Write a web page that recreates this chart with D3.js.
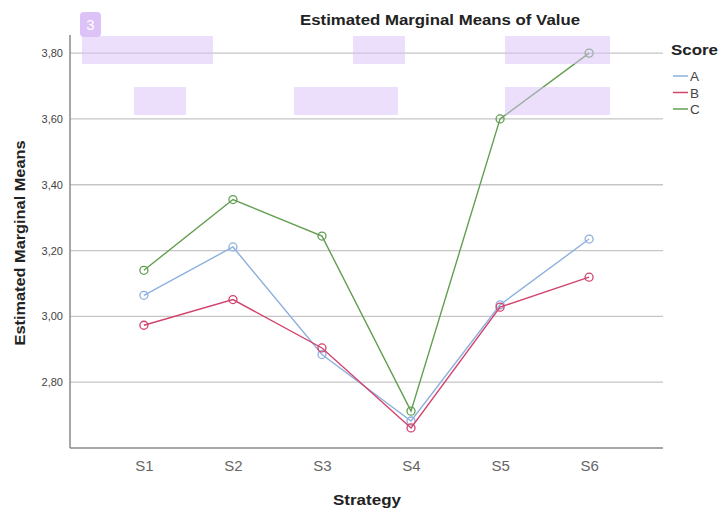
<!DOCTYPE html>
<html><head><meta charset="utf-8">
<script src="https://cdn.jsdelivr.net/npm/d3@7/dist/d3.min.js"></script>
<style>body{margin:0;background:#fff;font-family:"Liberation Sans",Arial,sans-serif}</style>
</head><body><svg id="c" width="720" height="508"></svg>
<script>
const categories = ["S1","S2","S3","S4","S5","S6"];
const seriesNames = ["A","B","C"];
const valuesA = [3.064, 3.211, 2.884, 2.682, 3.035, 3.235];
const valuesB = [2.973, 3.051, 2.904, 2.661, 3.028, 3.119];
const valuesC = [3.140, 3.355, 3.244, 2.712, 3.600, 3.800];
const yTicks = [2.80, 3.00, 3.20, 3.40, 3.60, 3.80];
const colors = ["#8db0df", "#d2436c", "#629e52"];
const overlays = [[82,36,131,28],[353,36,52,28],[505,36,105,28],[134,87,52,28],[294,87,104,28],[505,87,105,28]];

const svg = d3.select("#c");
const L=70, R=663, T=35, B=448;
const x = d3.scalePoint().domain(categories).range([L,R]).padding(0.83);
const y = d3.scaleLinear().domain([2.60, 3.855]).range([B,T]);

// gridlines
svg.append("g").selectAll("line").data(yTicks).join("line")
  .attr("x1",L).attr("x2",R).attr("y1",d=>y(d)).attr("y2",d=>y(d))
  .attr("stroke","#c6c6c6").attr("stroke-width",1.3);

// axes
const yAxis = svg.append("g").attr("transform",`translate(${L},0)`)
  .call(d3.axisLeft(y).tickValues(yTicks).tickSize(0).tickPadding(7).tickFormat(d=>d3.format(".2f")(d).replace(".",",")));
yAxis.select(".domain").remove();
yAxis.selectAll("text").attr("font-size",11).attr("fill","#444").attr("font-family","Liberation Sans, Arial, sans-serif");
const xAxis = svg.append("g").attr("transform",`translate(0,${B})`)
  .call(d3.axisBottom(x).tickSize(0).tickPadding(12));
xAxis.select(".domain").remove();
xAxis.selectAll("text").attr("font-size",15).attr("fill","#666").attr("font-family","Liberation Sans, Arial, sans-serif");

svg.append("line").attr("x1",L).attr("x2",L).attr("y1",T).attr("y2",B).attr("stroke","#8a8a8a").attr("stroke-width",1.5);
svg.append("line").attr("x1",L).attr("x2",R).attr("y1",B).attr("y2",B).attr("stroke","#8a8a8a").attr("stroke-width",1.5);

// series
const series = [valuesA, valuesB, valuesC];
const line = d3.line().x((d,i)=>x(categories[i])).y(d=>y(d));
series.forEach((vals,si)=>{
  svg.append("path").datum(vals).attr("d",line).attr("fill","none")
    .attr("stroke",colors[si]).attr("stroke-width",1.4);
  svg.append("g").selectAll("circle").data(vals).join("circle")
    .attr("cx",(d,i)=>x(categories[i])).attr("cy",d=>y(d)).attr("r",4)
    .attr("fill","none").attr("stroke",colors[si]).attr("stroke-width",1.3);
});

// titles
svg.append("text").attr("x",440).attr("y",25).attr("text-anchor","middle")
  .attr("font-size",14.5).attr("font-weight","bold").attr("fill","#222")
  .attr("textLength",280).attr("lengthAdjust","spacingAndGlyphs").text("Estimated Marginal Means of Value");
svg.append("text").attr("x",367).attr("y",505).attr("text-anchor","middle")
  .attr("font-size",15.5).attr("font-weight","bold").attr("fill","#222")
  .attr("textLength",68).attr("lengthAdjust","spacingAndGlyphs").text("Strategy");
svg.append("text").attr("transform","translate(25,243) rotate(-90)").attr("text-anchor","middle")
  .attr("font-size",15.5).attr("font-weight","bold").attr("fill","#222")
  .attr("textLength",205).attr("lengthAdjust","spacingAndGlyphs").text("Estimated Marginal Means");

// legend
svg.append("text").attr("x",671).attr("y",55).attr("font-size",15.5).attr("font-weight","bold").attr("fill","#222")
  .attr("textLength",47).attr("lengthAdjust","spacingAndGlyphs").text("Score");
seriesNames.forEach((n,i)=>{
  const yy = 76 + i*16.5;
  svg.append("line").attr("x1",673).attr("x2",688).attr("y1",yy).attr("y2",yy).attr("stroke",colors[i]).attr("stroke-width",1.5);
  svg.append("text").attr("x",690).attr("y",yy+5).attr("font-size",13.5).attr("fill","#444").text(n);
});

// overlays
svg.append("g").selectAll("rect").data(overlays).join("rect")
  .attr("x",d=>d[0]).attr("y",d=>d[1]).attr("width",d=>d[2]).attr("height",d=>d[3])
  .attr("fill","#d9bff8").attr("fill-opacity",0.5);
svg.append("rect").attr("x",80).attr("y",12).attr("width",21).attr("height",25).attr("rx",4)
  .attr("fill","#dcc2f7");
svg.append("text").attr("x",90.5).attr("y",30).attr("text-anchor","middle").attr("font-size",15).attr("fill","#fff").text("3");
</script></body></html>
